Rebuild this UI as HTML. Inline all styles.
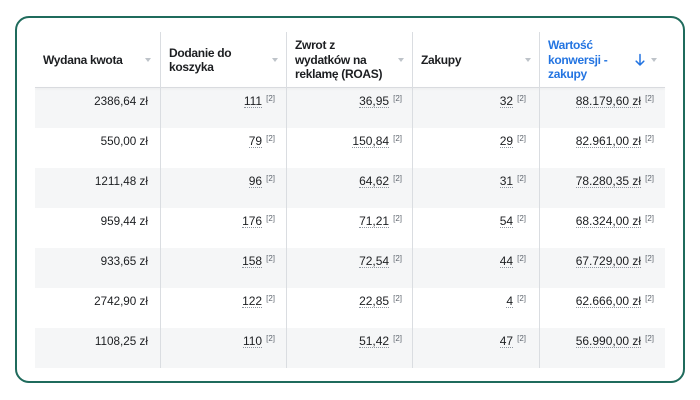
<!DOCTYPE html>
<html><head><meta charset="utf-8">
<style>
*{margin:0;padding:0;box-sizing:border-box}
body{width:700px;height:400px;background:#fff;position:relative;overflow:hidden;font-family:"Liberation Sans",Arial,sans-serif;color:#1c1e21}
.frame{position:absolute;left:15px;top:16px;width:670px;height:367px;border:2px solid #1f6b5c;border-radius:14px}
.row{position:absolute;left:35px;width:630px;height:40px}
.g{background:#f5f6f7}
.vl{position:absolute;top:32px;height:336px;width:1px;background:#dadde1}
.hline{position:absolute;left:35px;width:630px;top:87px;height:1px;background:#d9dbdf;box-shadow:0 1px 2px rgba(0,0,0,.07)}
.hdr{position:absolute;top:32px;height:56px;display:flex;align-items:center;font-weight:bold;font-size:12px;line-height:14.5px;letter-spacing:-0.3px;color:#1c1e21}
.blue{color:#2374e1}
.caret{position:absolute;top:58px;width:0;height:0;border-left:3.5px solid transparent;border-right:3.5px solid transparent;border-top:4px solid #bec3c9}
.arrow{position:absolute;left:634px;top:53px}
.cell{position:absolute;height:40px;display:flex;justify-content:flex-end;align-items:flex-start;padding-top:7px;font-size:12px;line-height:14px;color:#1c1e21}
.c1{left:35px;width:125px;padding-right:12px;font-size:11.7px}
.c2{left:160px;width:126px;padding-right:11px}
.c3{left:286px;width:126px;padding-right:10px}
.c4{left:412px;width:127px;padding-right:13px}
.c5{left:539px;width:126px;padding-right:11px}
.v{border-bottom:1px dotted #8d949e;line-height:12px}
.s{font-size:8px;color:#606770;margin-left:4px;line-height:10px;margin-top:-1px}
</style></head><body>
<div class="frame"></div>

<div class="row g" style="top:88px"></div>
<div class="row g" style="top:168px"></div>
<div class="row g" style="top:248px"></div>
<div class="row g" style="top:328px"></div>

<div class="hline"></div>

<div class="vl" style="left:160px"></div>
<div class="vl" style="left:286px"></div>
<div class="vl" style="left:412px"></div>
<div class="vl" style="left:539px"></div>

<div class="hdr" style="left:43px">Wydana kwota</div>
<div class="hdr" style="left:169px">Dodanie do<br>koszyka</div>
<div class="hdr" style="left:295px">Zwrot z<br>wydatków na<br>reklamę (ROAS)</div>
<div class="hdr" style="left:421px">Zakupy</div>
<div class="hdr blue" style="left:548px">Wartość<br>konwersji -<br>zakupy</div>
<svg class="arrow" width="12" height="14" viewBox="0 0 12 14" style="left:634px;top:53px"><path d="M6 1.5 V12 M2.2 8.2 L6 12 L9.8 8.2" fill="none" stroke="#2374e1" stroke-width="1.5" stroke-linecap="round" stroke-linejoin="round"/></svg>

<div class="caret" style="left:145px"></div>
<div class="caret" style="left:272px"></div>
<div class="caret" style="left:398px"></div>
<div class="caret" style="left:525px"></div>
<div class="caret" style="left:651px"></div>

<!-- row 1 -->
<div class="cell c1" style="top:88px">2386,64 zł</div>
<div class="cell c2" style="top:88px"><span class="v">111</span><span class="s">[2]</span></div>
<div class="cell c3" style="top:88px"><span class="v">36,95</span><span class="s">[2]</span></div>
<div class="cell c4" style="top:88px"><span class="v">32</span><span class="s">[2]</span></div>
<div class="cell c5" style="top:88px"><span class="v">88.179,60 zł</span><span class="s">[2]</span></div>
<!-- row 2 -->
<div class="cell c1" style="top:128px">550,00 zł</div>
<div class="cell c2" style="top:128px"><span class="v">79</span><span class="s">[2]</span></div>
<div class="cell c3" style="top:128px"><span class="v">150,84</span><span class="s">[2]</span></div>
<div class="cell c4" style="top:128px"><span class="v">29</span><span class="s">[2]</span></div>
<div class="cell c5" style="top:128px"><span class="v">82.961,00 zł</span><span class="s">[2]</span></div>
<!-- row 3 -->
<div class="cell c1" style="top:168px">1211,48 zł</div>
<div class="cell c2" style="top:168px"><span class="v">96</span><span class="s">[2]</span></div>
<div class="cell c3" style="top:168px"><span class="v">64,62</span><span class="s">[2]</span></div>
<div class="cell c4" style="top:168px"><span class="v">31</span><span class="s">[2]</span></div>
<div class="cell c5" style="top:168px"><span class="v">78.280,35 zł</span><span class="s">[2]</span></div>
<!-- row 4 -->
<div class="cell c1" style="top:208px">959,44 zł</div>
<div class="cell c2" style="top:208px"><span class="v">176</span><span class="s">[2]</span></div>
<div class="cell c3" style="top:208px"><span class="v">71,21</span><span class="s">[2]</span></div>
<div class="cell c4" style="top:208px"><span class="v">54</span><span class="s">[2]</span></div>
<div class="cell c5" style="top:208px"><span class="v">68.324,00 zł</span><span class="s">[2]</span></div>
<!-- row 5 -->
<div class="cell c1" style="top:248px">933,65 zł</div>
<div class="cell c2" style="top:248px"><span class="v">158</span><span class="s">[2]</span></div>
<div class="cell c3" style="top:248px"><span class="v">72,54</span><span class="s">[2]</span></div>
<div class="cell c4" style="top:248px"><span class="v">44</span><span class="s">[2]</span></div>
<div class="cell c5" style="top:248px"><span class="v">67.729,00 zł</span><span class="s">[2]</span></div>
<!-- row 6 -->
<div class="cell c1" style="top:288px">2742,90 zł</div>
<div class="cell c2" style="top:288px"><span class="v">122</span><span class="s">[2]</span></div>
<div class="cell c3" style="top:288px"><span class="v">22,85</span><span class="s">[2]</span></div>
<div class="cell c4" style="top:288px"><span class="v">4</span><span class="s">[2]</span></div>
<div class="cell c5" style="top:288px"><span class="v">62.666,00 zł</span><span class="s">[2]</span></div>
<!-- row 7 -->
<div class="cell c1" style="top:328px">1108,25 zł</div>
<div class="cell c2" style="top:328px"><span class="v">110</span><span class="s">[2]</span></div>
<div class="cell c3" style="top:328px"><span class="v">51,42</span><span class="s">[2]</span></div>
<div class="cell c4" style="top:328px"><span class="v">47</span><span class="s">[2]</span></div>
<div class="cell c5" style="top:328px"><span class="v">56.990,00 zł</span><span class="s">[2]</span></div>
</body></html>
